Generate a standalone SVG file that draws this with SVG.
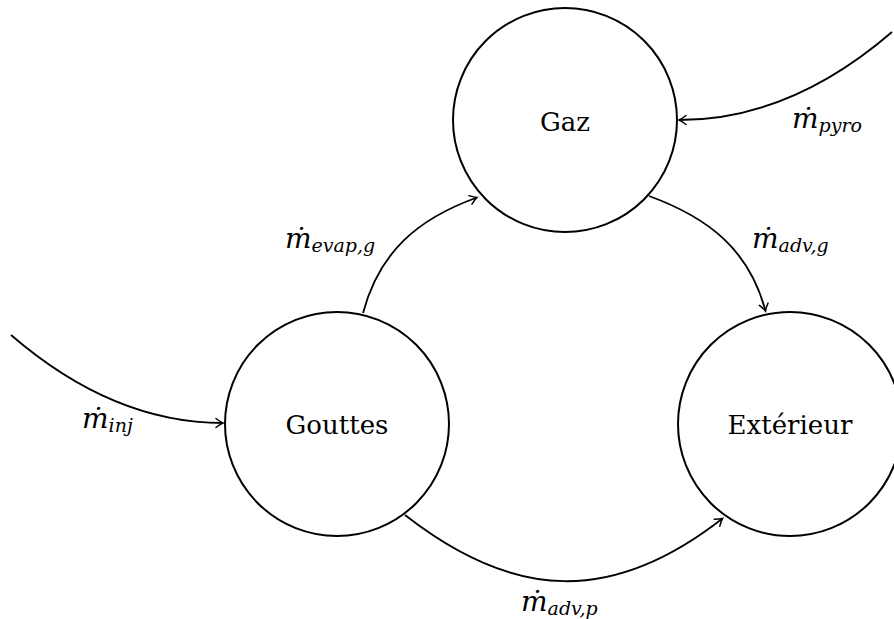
<svg xmlns="http://www.w3.org/2000/svg" width="894" height="619" viewBox="0 0 894 619">
<style>
  .node circle { fill: none; stroke: #000; stroke-width: 2; }
  .node text { font-family: "DejaVu Serif", serif; font-size: 26px; text-anchor: middle; fill: #000; }
  .edge { fill: none; stroke: #000; stroke-width: 1.8; marker-end: url(#to); }
  .lbl { font-family: "DejaVu Serif", serif; font-style: italic; fill: #000; }
  .m { font-size: 28px; }
  .sub { font-size: 19px; }
</style>
<defs>
  <marker id="to" viewBox="-10 -6 12 12" refX="0" refY="0" markerWidth="12" markerHeight="12" markerUnits="userSpaceOnUse" orient="auto">
    <path d="M -7,-4.5 Q -2.5,-1 0,0 Q -2.5,1 -7,4.5" fill="none" stroke="#000" stroke-width="1.5" stroke-linecap="round"/>
  </marker>
</defs>
<rect width="894" height="619" fill="#fff"/>
<g id="gaz" class="node">
  <circle cx="565" cy="120" r="112"/>
  <text x="565" y="131">Gaz</text>
</g>
<g id="gouttes" class="node">
  <circle cx="337" cy="424" r="112"/>
  <text x="337" y="434">Gouttes</text>
</g>
<g id="exterieur" class="node">
  <circle cx="790" cy="424" r="112"/>
  <text x="790" y="434">Extérieur</text>
</g>
<g id="connectors">
  <path class="edge" d="M 11,335 Q 113,423 223,423"/>
  <path class="edge" d="M 892,32 Q 790,120 679,120"/>
  <path class="edge" d="M 363,313 C 379.6,251.2 417.9,218.9 477,197.5"/>
  <path class="edge" d="M 649,196 C 709.1,217.9 749.4,250.2 765.5,311"/>
  <path class="edge" d="M 405,515 C 515.3,601.2 612.7,604.2 722.5,518.5"/>
</g>
<g id="labels">
  <text class="lbl" x="82" y="428"><tspan class="m">ṁ</tspan><tspan class="sub" dy="4">inj</tspan></text>
  <text class="lbl" x="792" y="128"><tspan class="m">ṁ</tspan><tspan class="sub" dy="4">pyro</tspan></text>
  <text class="lbl" x="285" y="248"><tspan class="m">ṁ</tspan><tspan class="sub" dy="4">evap,g</tspan></text>
  <text class="lbl" x="752" y="248"><tspan class="m">ṁ</tspan><tspan class="sub" dy="4">adv,g</tspan></text>
  <text class="lbl" x="521" y="611"><tspan class="m">ṁ</tspan><tspan class="sub" dy="4">adv,p</tspan></text>
</g>
</svg>
